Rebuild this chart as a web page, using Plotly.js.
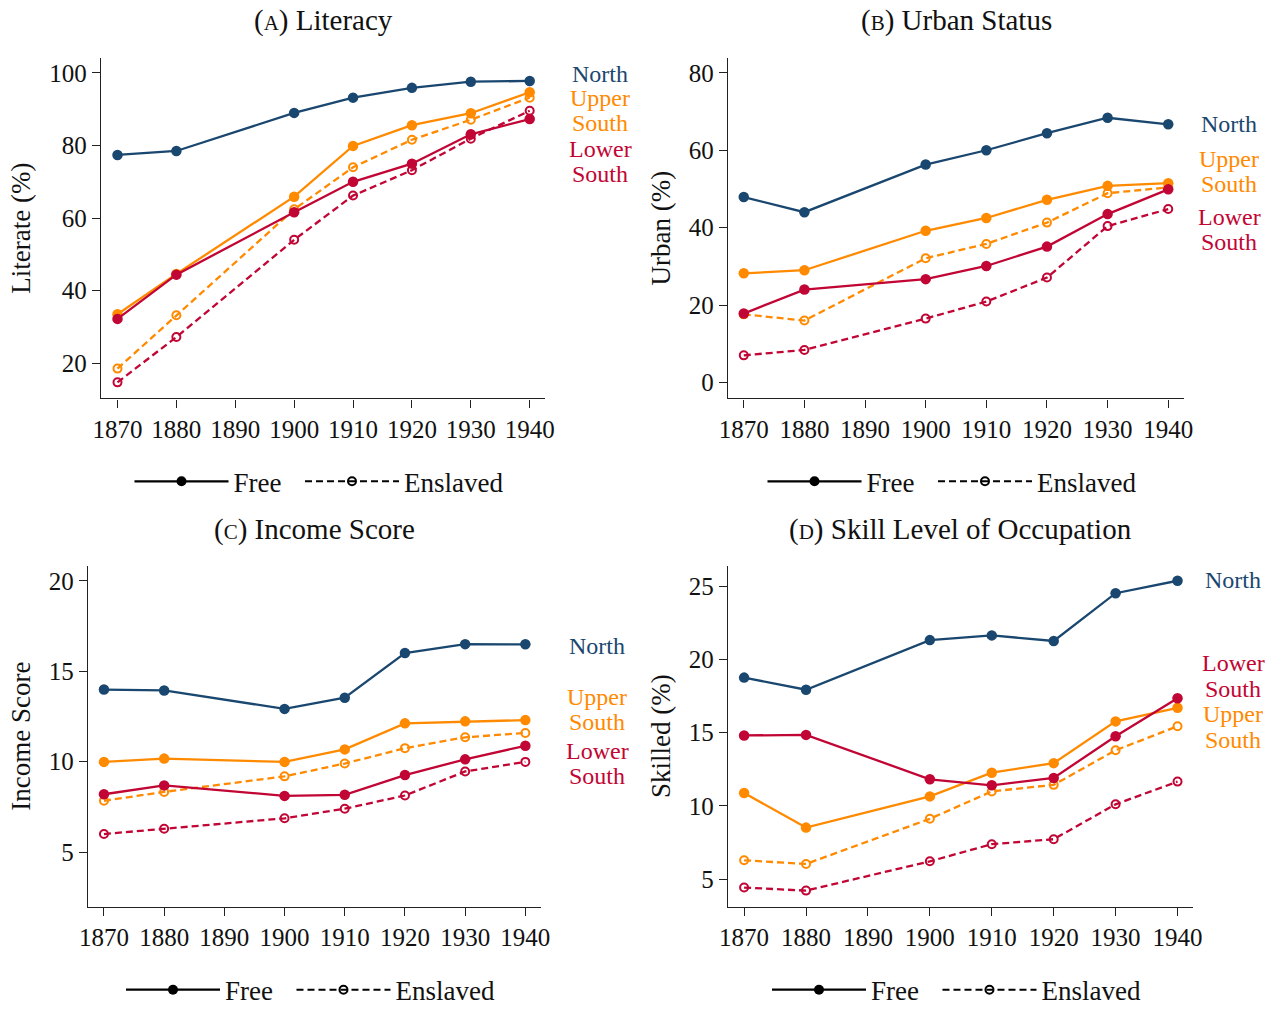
<!DOCTYPE html>
<html>
<head>
<meta charset="utf-8">
<script src="https://cdn.plot.ly/plotly-3.0.1.min.js"></script>
<style>html,body{margin:0;padding:0;background:#fff;}#chart{width:1282px;height:1015px;}</style>
</head>
<body>
<div id="chart"></div>
<script>
const years = [1870, 1880, 1900, 1910, 1920, 1930, 1940];
const tickYears = [1870, 1880, 1890, 1900, 1910, 1920, 1930, 1940];

// (A) Literacy, % literate
const litNorth     = [77.4, 78.5, 89.0, 93.2, 95.9, 97.6, 97.8];
const litUpperFree = [33.5, 44.6, 65.9, 79.9, 85.6, 88.9, 94.7];
const litUpperEnsl = [18.5, 33.2, 62.4, 74.0, 81.6, 87.1, 93.2];
const litLowerFree = [32.2, 44.4, 61.6, 70.0, 75.0, 83.1, 87.3];
const litLowerEnsl = [14.7, 27.2, 54.0, 66.2, 73.2, 81.9, 89.6];

// (B) Urban status, % urban
const urbNorth     = [47.9, 44.0, 56.3, 60.0, 64.4, 68.4, 66.7];
const urbUpperFree = [28.2, 29.0, 39.2, 42.5, 47.2, 50.8, 51.5];
const urbUpperEnsl = [17.6, 16.0, 32.1, 35.8, 41.3, 48.9, 50.4];
const urbLowerFree = [17.8, 24.0, 26.7, 30.1, 35.1, 43.5, 49.9];
const urbLowerEnsl = [7.0, 8.4, 16.5, 20.9, 27.1, 40.4, 44.8];

// (C) Income score
const incNorth     = [13.99, 13.94, 12.92, 13.54, 16.01, 16.50, 16.49];
const incUpperFree = [9.99, 10.17, 9.99, 10.68, 12.12, 12.23, 12.30];
const incUpperEnsl = [7.84, 8.33, 9.19, 9.90, 10.75, 11.35, 11.59];
const incLowerFree = [8.20, 8.69, 8.11, 8.17, 9.26, 10.13, 10.88];
const incLowerEnsl = [6.00, 6.29, 6.87, 7.40, 8.13, 9.46, 9.99];

// (D) Skill level of occupation, % skilled
const sklNorth     = [18.75, 17.92, 21.31, 21.63, 21.25, 24.51, 25.36];
const sklUpperFree = [10.87, 8.51, 10.64, 12.26, 12.91, 15.76, 16.69];
const sklUpperEnsl = [6.28, 6.03, 9.11, 10.98, 11.43, 13.79, 15.43];
const sklLowerFree = [14.80, 14.84, 11.81, 11.40, 11.90, 14.75, 17.34];
const sklLowerEnsl = [4.42, 4.21, 6.21, 7.38, 7.72, 10.10, 11.65];

const panelTitles = ["A", "B", "C", "D"];
const panelNames = ["Literacy", "Urban Status", "Income Score", "Skill Level of Occupation"];
const yTitles = ["Literate (%)", "Urban (%)", "Income Score", "Skilled (%)"];
const legendLabels = ["Free", "Enslaved"];

const NAVY = "#1a476f", ORANGE = "#ff8a00", CRAN = "#c10534";
const FONT = "Liberation Serif, Times New Roman, serif";
const W = 1282, H = 1015;
const px = x => x / W;
const py = y => (H - y) / H;

const panels = [
  {north: litNorth, uf: litUpperFree, ue: litUpperEnsl, lf: litLowerFree, le: litLowerEnsl},
  {north: urbNorth, uf: urbUpperFree, ue: urbUpperEnsl, lf: urbLowerFree, le: urbLowerEnsl},
  {north: incNorth, uf: incUpperFree, ue: incUpperEnsl, lf: incLowerFree, le: incLowerEnsl},
  {north: sklNorth, uf: sklUpperFree, ue: sklUpperEnsl, lf: sklLowerFree, le: sklLowerEnsl}
];

const axSuffix = ["", "2", "3", "4"];
const traces = [];
function freeTrace(y, color, i) {
  return {x: years, y: y, xaxis: "x" + axSuffix[i], yaxis: "y" + axSuffix[i],
    mode: "lines+markers", showlegend: false, hoverinfo: "x+y",
    line: {color: color, width: 2.3}, marker: {color: color, size: 10.5, symbol: "circle"}};
}
function enslTrace(y, color, i) {
  return {x: years, y: y, xaxis: "x" + axSuffix[i], yaxis: "y" + axSuffix[i],
    mode: "lines+markers", showlegend: false, hoverinfo: "x+y",
    line: {color: color, width: 2.3, dash: "7px,4px"},
    marker: {color: color, size: 8, symbol: "circle-open", line: {width: 2, color: color}}};
}
panels.forEach((p, i) => {
  traces.push(freeTrace(p.north, NAVY, i));
  traces.push(enslTrace(p.ue, ORANGE, i));
  traces.push(freeTrace(p.uf, ORANGE, i));
  traces.push(enslTrace(p.le, CRAN, i));
  traces.push(freeTrace(p.lf, CRAN, i));
  // legend key traces (no data)
  const lg = "legend" + axSuffix[i];
  traces.push({x: [null], y: [null], xaxis: "x" + axSuffix[i], yaxis: "y" + axSuffix[i],
    name: legendLabels[0] + "\u00a0\u00a0", legend: lg, mode: "lines+markers",
    line: {color: "#000", width: 2.3}, marker: {color: "#000", size: 10}});
  traces.push({x: [null], y: [null], xaxis: "x" + axSuffix[i], yaxis: "y" + axSuffix[i],
    name: legendLabels[1], legend: lg, mode: "lines+markers",
    line: {color: "#000", width: 2, dash: "7px,4px"},
    marker: {color: "#000", size: 8, symbol: "circle-open", line: {width: 2, color: "#000"}}});
});

// panel geometry (pixels)
const geo = [
  {x0: 101, x1: 545, y0: 58.5, y1: 403.5, xr: [1867.2, 1942.6], yr: [10.3, 104.2], dt: 20, t0: 20},
  {x0: 728, x1: 1184, y0: 58.5, y1: 403.5, xr: [1867.4, 1942.6], yr: [-4.1, 83.9], dt: 20, t0: 0},
  {x0: 88, x1: 541, y0: 573, y1: 918.5, xr: [1867.35, 1942.6], yr: [1.98, 20.84], dt: 5, t0: 5},
  {x0: 728, x1: 1193, y0: 573, y1: 918.5, xr: [1867.4, 1942.5], yr: [3.11, 26.39], dt: 5, t0: 5}
];

const layout = {
  width: W, height: H,
  margin: {l: 0, r: 0, t: 0, b: 0},
  paper_bgcolor: "#fff", plot_bgcolor: "#fff",
  font: {family: FONT, size: 25, color: "#111"},
  annotations: [],
  hovermode: "closest"
};

geo.forEach((g, i) => {
  const s = axSuffix[i];
  layout["xaxis" + s] = {
    domain: [px(g.x0), px(g.x1)], range: g.xr, anchor: "y" + s,
    tickmode: "array", tickvals: tickYears, ticktext: tickYears.map(String),
    showgrid: false, zeroline: false, showline: true, linecolor: "#222", linewidth: 1.4,
    ticks: "outside", ticklen: 8, tickwidth: 1.4, tickcolor: "#222",
    tickfont: {family: FONT, size: 25, color: "#111"}, fixedrange: true
  };
  layout["yaxis" + s] = {
    domain: [py(g.y1), py(g.y0)], range: g.yr, anchor: "x" + s,
    tick0: g.t0, dtick: g.dt,
    showgrid: false, zeroline: false, showline: true, linecolor: "#222", linewidth: 1.4,
    ticks: "outside", ticklen: 8, tickwidth: 1.4, tickcolor: "#222",
    tickfont: {family: FONT, size: 25, color: "#111"}, fixedrange: true,
    title: {text: yTitles[i], font: {family: FONT, size: 27, color: "#111"}, standoff: 10}
  };
  const top = i < 2;
  layout["legend" + s] = {
    orientation: "h", x: px((g.x0 + g.x1) / 2 - 4), xanchor: "center",
    y: top ? py(488) : py(1003), yanchor: "middle",
    itemwidth: 94, bgcolor: "rgba(0,0,0,0)",
    font: {family: FONT, size: 27, color: "#111"}, traceorder: "normal",
    itemclick: false, itemdoubleclick: false
  };
  layout.annotations.push({
    xref: "paper", yref: "paper", x: px((g.x0 + g.x1) / 2), y: top ? py(21) : py(536),
    xanchor: "center", yanchor: "middle", showarrow: false,
    text: "(<span style='font-size:21px'>" + panelTitles[i] + "</span>) " + panelNames[i],
    font: {family: FONT, size: 29, color: "#111"}
  });
});

// region labels at the right of each panel
const regionLabels = [
  {cx: 600, items: [["North", 75, NAVY], ["Upper", 99.5, ORANGE], ["South", 124.8, ORANGE], ["Lower", 150.7, CRAN], ["South", 176, CRAN]]},
  {cx: 1229, items: [["North", 126, NAVY], ["Upper", 161, ORANGE], ["South", 186.5, ORANGE], ["Lower", 219.5, CRAN], ["South", 245, CRAN]]},
  {cx: 597, items: [["North", 654.5, NAVY], ["Upper", 706, ORANGE], ["South", 731.8, ORANGE], ["Lower", 760.5, CRAN], ["South", 786, CRAN]]},
  {cx: 1233, items: [["North", 588, NAVY], ["Lower", 671.5, CRAN], ["South", 697.5, CRAN], ["Upper", 723.5, ORANGE], ["South", 749.5, ORANGE]]}
];
regionLabels.forEach(r => {
  r.items.forEach(it => {
    layout.annotations.push({
      xref: "paper", yref: "paper", x: px(r.cx), y: py(it[1]),
      xanchor: "center", yanchor: "middle", showarrow: false,
      text: it[0], font: {family: FONT, size: 24, color: it[2]}
    });
  });
});

Plotly.newPlot("chart", traces, layout, {displayModeBar: false, responsive: false});
</script>
</body>
</html>
